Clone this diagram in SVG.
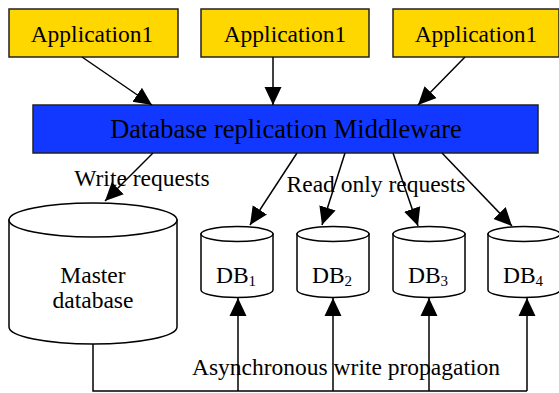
<svg xmlns="http://www.w3.org/2000/svg" width="559" height="393" viewBox="0 0 559 393">
<style>
text{font-family:"Liberation Serif","Times New Roman",serif;font-size:23.5px;fill:#000}
.app rect{fill:#FFD700;stroke:#222;stroke-width:1.5}
.mid rect{fill:#1238FF;stroke:#222;stroke-width:1.5}
.db path{fill:#fff;stroke:#000;stroke-width:1.5}
.edges line,.edges polyline{stroke:#000;stroke-width:1.5;fill:none}
.arr{marker-end:url(#ah)}
.lbl{text-anchor:middle}
</style>
<defs>
<marker id="ah" markerUnits="userSpaceOnUse" markerWidth="18" markerHeight="18" refX="18" refY="9" orient="auto">
<path d="M0,0.5 L18,9 L0,17.5 z" fill="#000"/>
</marker>
</defs>
<g id="app1" class="app"><rect x="9" y="9" width="169" height="48"/><text class="lbl" x="92" y="42">Application1</text></g>
<g id="app2" class="app"><rect x="201" y="9" width="168" height="48"/><text class="lbl" x="285" y="42">Application1</text></g>
<g id="app3" class="app"><rect x="393" y="9" width="166" height="48"/><text class="lbl" x="476" y="42">Application1</text></g>
<g id="middleware" class="mid"><rect x="33" y="105" width="505" height="48"/><text class="lbl" x="286" y="138" style="font-size:26.5px">Database replication Middleware</text></g>
<g id="master" class="db">
<path d="M9,220 L9,327 A84,17 0 0,0 177,327 L177,220 Z"/>
<path d="M9,220 A84,17 0 0,1 177,220 A84,17 0 0,1 9,220 Z"/>
<text class="lbl" x="93" y="283">Master</text>
<text class="lbl" x="93" y="308">database</text>
</g>
<g id="db1" class="db">
<path d="M201,234 L201,290 A36,7.5 0 0,0 273,290 L273,234 Z"/>
<path d="M201,234 A36,7.5 0 0,1 273,234 A36,7.5 0 0,1 201,234 Z"/>
<text class="lbl" x="236" y="283">DB<tspan style="font-size:15px" dy="3">1</tspan></text>
</g>
<g id="db2" class="db">
<path d="M297,234 L297,290 A36,7.5 0 0,0 369,290 L369,234 Z"/>
<path d="M297,234 A36,7.5 0 0,1 369,234 A36,7.5 0 0,1 297,234 Z"/>
<text class="lbl" x="332" y="283">DB<tspan style="font-size:15px" dy="3">2</tspan></text>
</g>
<g id="db3" class="db">
<path d="M393,234 L393,290 A36,7.5 0 0,0 465,290 L465,234 Z"/>
<path d="M393,234 A36,7.5 0 0,1 465,234 A36,7.5 0 0,1 393,234 Z"/>
<text class="lbl" x="428" y="283">DB<tspan style="font-size:15px" dy="3">3</tspan></text>
</g>
<g id="db4" class="db">
<path d="M488,234 L488,290 A36,7.5 0 0,0 560,290 L560,234 Z"/>
<path d="M488,234 A36,7.5 0 0,1 560,234 A36,7.5 0 0,1 488,234 Z"/>
<text class="lbl" x="523" y="283">DB<tspan style="font-size:15px" dy="3">4</tspan></text>
</g>
<g id="connectors" class="edges">
<line class="arr" x1="82" y1="57" x2="152" y2="105"/>
<line class="arr" x1="273" y1="57" x2="273" y2="105"/>
<line class="arr" x1="465" y1="57" x2="418" y2="105"/>
<line class="arr" x1="153" y1="153" x2="105" y2="201"/>
<line class="arr" x1="297" y1="153" x2="250" y2="225"/>
<line class="arr" x1="345" y1="153" x2="322" y2="225"/>
<line class="arr" x1="393" y1="153" x2="418" y2="226"/>
<line class="arr" x1="442" y1="153" x2="512" y2="226"/>
<polyline points="93,344 93,391 527,391"/>
<line class="arr" x1="238" y1="391" x2="238" y2="298"/>
<line class="arr" x1="333" y1="391" x2="333" y2="298"/>
<line class="arr" x1="429" y1="391" x2="429" y2="298"/>
<line class="arr" x1="527" y1="391" x2="527" y2="298"/>
<text class="lbl" x="142" y="186">Write requests</text>
<text class="lbl" x="376" y="192">Read only requests</text>
<text class="lbl" x="346" y="375">Asynchronous write propagation</text>
</g>
</svg>
